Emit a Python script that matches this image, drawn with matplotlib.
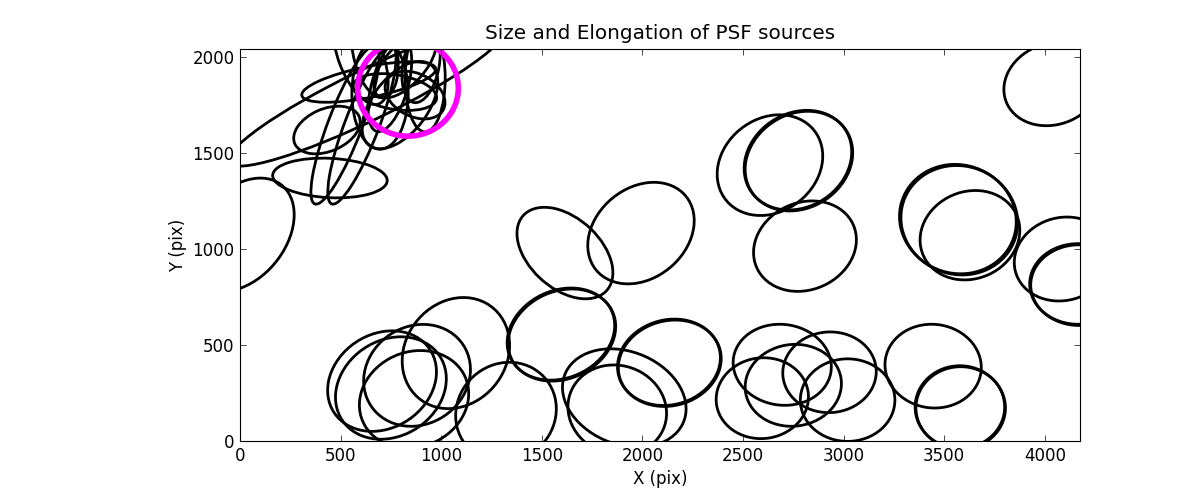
import matplotlib
matplotlib.use('Agg')
import matplotlib.pyplot as plt
from matplotlib.patches import Ellipse

# centre x, centre y, major, minor, angle of each source (pix)
src_x = [706, 750, 880, 1073, 865, 1322, 1595, 1600, 1910, 1875, 2132, 2136, 2596, 2695, 2750, 2930, 3020, 3445, 3578, 3582,
         1615, 1993, 2634, 2773, 2778, 2808, 3568, 3575, 3628, 4090, 4165, 4170, 4040, 10,
         447, 522, 606, 630, 432, 640,
         696, 795, 745, 870, 770, 920, 670, 820, 600, 900]
src_y = [312, 276, 342, 458, 217, 150, 557, 552, 224, 161, 410, 405, 223, 397, 290, 358, 213, 390, 177, 172,
         979, 1083, 1437, 1463, 1458, 1015, 1156, 1150, 1072, 948, 818, 812, 1860, 1075,
         1370, 1646, 1646, 1800, 1620, 1870,
         1810, 1750, 1854, 1802, 1818, 1890, 2035, 1960, 2000, 1960]
src_major = [580, 590, 560, 600, 560, 530, 560, 560, 640, 500, 520, 520, 460, 490, 480, 465, 470, 480, 445, 445,
             570, 590, 570, 570, 570, 530, 590, 590, 510, 490, 480, 480, 500, 650,
             570, 875, 875, 1540, 350, 680,
             580, 520, 500, 320, 420, 560, 500, 420, 520, 400]
src_minor = [480, 490, 500, 510, 490, 490, 450, 450, 480, 460, 440, 440, 420, 420, 425, 420, 430, 435, 430, 430,
             360, 460, 475, 480, 480, 450, 560, 560, 450, 430, 420, 420, 420, 440,
             205, 170, 170, 260, 220, 160,
             280, 280, 180, 220, 180, 200, 220, 200, 220, 180]
src_angle = [40, 40, 45, 60, 30, 60, 30, 30, -25, -30, 20, 20, 10, -10, 10, 5, 0, -10, 0, 0,
             -45, 45, 45, 40, 40, 30, -35, -35, 30, 20, 0, 0, 25, 55,
             -3, 70, 70, 27, 25, 12,
             90, 55, 75, -30, -10, 90, 100, 50, 110, 80]

# the one source ringed in magenta
ring_x = 835
ring_y = 1838
ring_size = 500

fig = plt.figure(figsize=(12, 4.9), dpi=100)
ax = fig.add_axes([0.2, 0.1, 0.7, 0.8])

for x, y, a, b, ang in zip(src_x, src_y, src_major, src_minor, src_angle):
    ax.add_patch(Ellipse((x, y), a, b, angle=ang, fill=False, ec='black', lw=2))
ax.add_patch(Ellipse((ring_x, ring_y), ring_size, ring_size, fill=False, ec='#ff00ff', lw=4))

ax.set_xlim(0, 4175)
ax.set_ylim(0, 2042)
ax.set_xticks(range(0, 4001, 500))
ax.set_yticks(range(0, 2001, 500))
ax.tick_params(direction='in', top=True, right=True, length=4, width=0.5, labelsize=12, pad=4)
ax.set_xlabel('X (pix)', fontsize=12)
ax.set_ylabel('Y (pix)', fontsize=12)
ax.set_title('Size and Elongation of PSF sources', fontsize=14.4, pad=7)

plt.savefig('out.png')
